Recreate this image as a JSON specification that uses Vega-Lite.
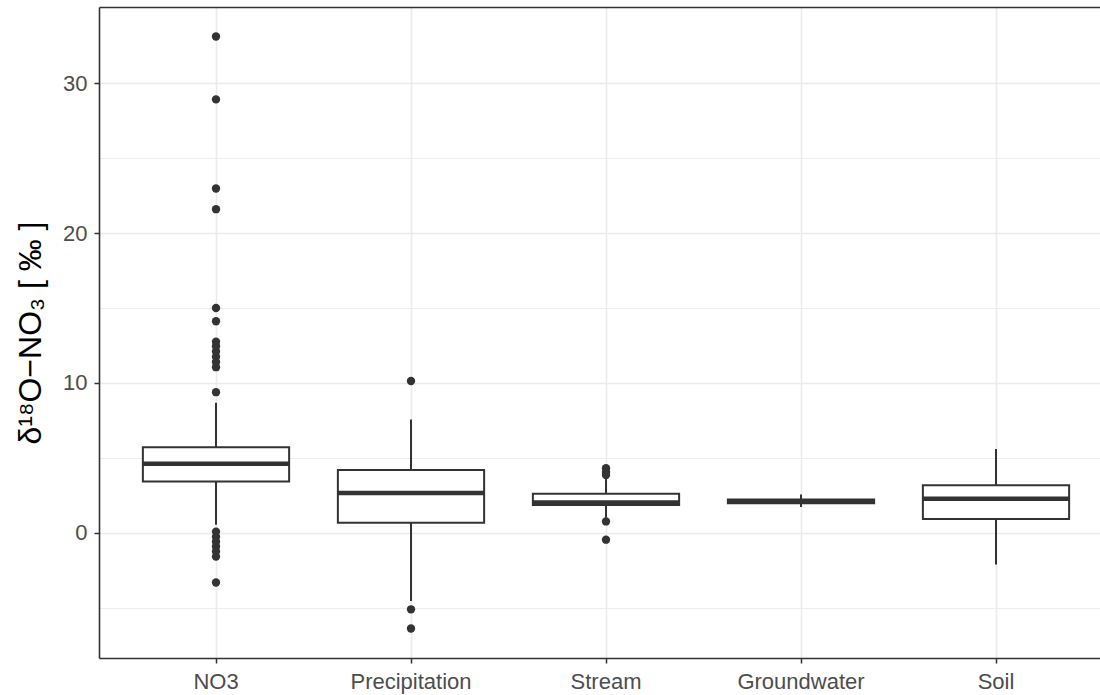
{
  "$schema": "https://vega.github.io/schema/vega-lite/v6.json",
  "width": 1014,
  "height": 651,
  "autosize": {"type": "none"},
  "padding": {"left": 99, "top": 7, "right": 0, "bottom": 37},
  "background": "white",
  "config": {
    "view": {"stroke": null},
    "font": "Liberation Sans",
    "axis": {
      "domain": false,
      "tickColor": "#333333",
      "tickWidth": 1.5,
      "tickSize": 5,
      "labelColor": "#4D4D4D",
      "labelFont": "Liberation Sans",
      "labelFontSize": 22,
      "gridColor": "#EBEBEB",
      "gridWidth": 1.6,
      "titleColor": "#000000",
      "titleFont": "Liberation Sans",
      "titleFontWeight": "normal"
    }
  },
  "datasets": {
    "stats": [
      {"group": "NO3", "lo": 0.53, "q1": 3.42, "med": 4.6, "q3": 5.7, "hi": 8.67},
      {"group": "Precipitation", "lo": -4.57, "q1": 0.66, "med": 2.64, "q3": 4.19, "hi": 7.55},
      {"group": "Stream", "lo": 1.0, "q1": 1.85, "med": 2.02, "q3": 2.59, "hi": 3.6},
      {"group": "Groundwater", "lo": 1.72, "q1": 1.97, "med": 2.08, "q3": 2.22, "hi": 2.55},
      {"group": "Soil", "lo": -2.13, "q1": 0.91, "med": 2.27, "q3": 3.17, "hi": 5.59}
    ],
    "outliers": [
      {"group": "NO3", "value": 33.13},
      {"group": "NO3", "value": 28.93},
      {"group": "NO3", "value": 22.98},
      {"group": "NO3", "value": 21.6},
      {"group": "NO3", "value": 15.0},
      {"group": "NO3", "value": 14.12},
      {"group": "NO3", "value": 12.75},
      {"group": "NO3", "value": 12.45},
      {"group": "NO3", "value": 12.1},
      {"group": "NO3", "value": 11.75},
      {"group": "NO3", "value": 11.4},
      {"group": "NO3", "value": 11.05},
      {"group": "NO3", "value": 9.38},
      {"group": "NO3", "value": 0.07},
      {"group": "NO3", "value": -0.27},
      {"group": "NO3", "value": -0.6},
      {"group": "NO3", "value": -0.93},
      {"group": "NO3", "value": -1.26},
      {"group": "NO3", "value": -1.6},
      {"group": "NO3", "value": -3.33},
      {"group": "Precipitation", "value": 10.13},
      {"group": "Precipitation", "value": -5.12},
      {"group": "Precipitation", "value": -6.4},
      {"group": "Stream", "value": 4.3},
      {"group": "Stream", "value": 4.05},
      {"group": "Stream", "value": 3.85},
      {"group": "Stream", "value": 0.75},
      {"group": "Stream", "value": -0.47}
    ]
  },
  "layer": [
    {
      "data": {"name": "stats"},
      "mark": {"type": "rule", "color": "#333333", "strokeWidth": 2},
      "encoding": {
        "x": {
          "field": "group", "type": "nominal",
          "sort": ["NO3", "Precipitation", "Stream", "Groundwater", "Soil"],
          "scale": {"paddingInner": 0, "paddingOuter": 0.1},
          "axis": {"orient": "bottom", "title": null, "labelAngle": 0, "grid": true, "bandPosition": 0.5, "labelPadding": 8, "domain": true, "domainColor": "#333333", "domainWidth": 1.6}
        },
        "y": {
          "field": "lo", "type": "quantitative",
          "scale": {"domain": [-8.37, 35.1], "nice": false, "zero": false},
          "axis": {
            "orient": "left",
            "values": [0, 10, 20, 30],
            "title": "δ¹⁸O−NO₃ [ ‰ ]",
            "titleFontSize": 32,
            "titlePadding": 15,
            "labelPadding": 7,
            "domain": true,
            "domainColor": "#333333",
            "domainWidth": 1.6
          }
        },
        "y2": {"field": "hi"}
      }
    },
    {
      "data": {"name": "stats"},
      "mark": {"type": "bar", "fill": "white", "stroke": "#333333", "strokeWidth": 2, "width": {"band": 0.75}},
      "encoding": {
        "x": {
          "field": "group", "type": "nominal",
          "sort": ["NO3", "Precipitation", "Stream", "Groundwater", "Soil"],
          "axis": {"orient": "top", "title": null, "labels": false, "ticks": false, "grid": false, "domain": true, "domainColor": "#333333", "domainWidth": 1.6}
        },
        "y": {
          "field": "q1", "type": "quantitative",
          "axis": {
            "orient": "right",
            "values": [-5, 5, 15, 25],
            "labels": false,
            "ticks": false,
            "domain": false,
            "grid": true,
            "gridWidth": 0.9,
            "gridColor": "#EBEBEB",
            "title": null
          }
        },
        "y2": {"field": "q3"}
      }
    },
    {
      "data": {"name": "stats"},
      "mark": {"type": "tick", "color": "#333333", "thickness": 4.5, "size": 147, "opacity": 1},
      "encoding": {
        "x": {"field": "group", "type": "nominal", "sort": ["NO3", "Precipitation", "Stream", "Groundwater", "Soil"], "axis": null},
        "y": {"field": "med", "type": "quantitative", "axis": null}
      }
    },
    {
      "data": {"name": "outliers"},
      "mark": {"type": "circle", "color": "#333333", "size": 70, "opacity": 1},
      "encoding": {
        "x": {"field": "group", "type": "nominal", "sort": ["NO3", "Precipitation", "Stream", "Groundwater", "Soil"], "axis": null},
        "y": {"field": "value", "type": "quantitative", "axis": null}
      }
    }
  ],
  "resolve": {"axis": {"y": "independent", "x": "independent"}}
}
